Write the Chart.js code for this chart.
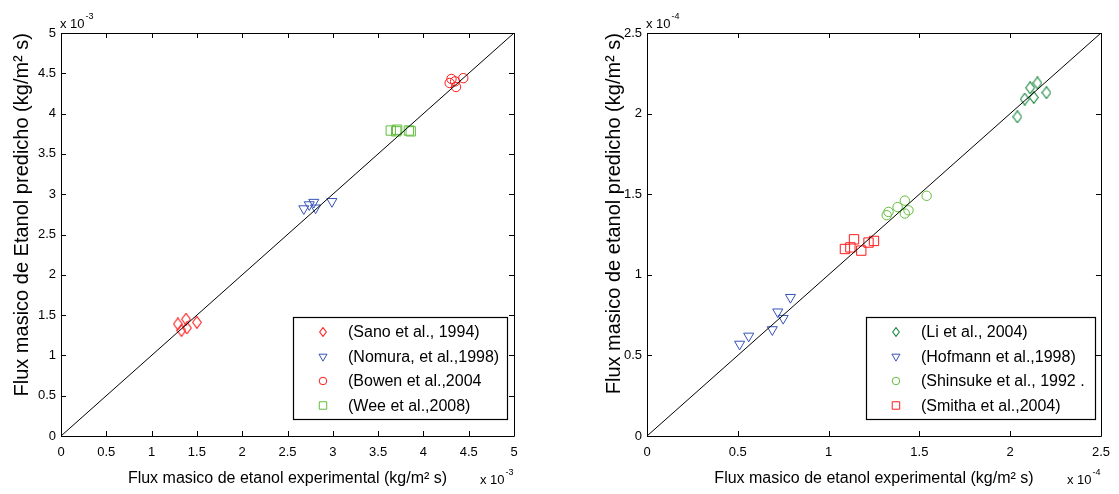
<!DOCTYPE html>
<html>
<head>
<meta charset="utf-8">
<title>Flux masico de etanol</title>
<script src="https://cdn.jsdelivr.net/npm/chart.js@4.4.1/dist/chart.umd.min.js"></script>
<style>
  html, body { margin: 0; padding: 0; background: #fff; }
  #wrap { position: relative; width: 1119px; height: 494px; overflow: hidden; }
  canvas { position: absolute; top: 0; }
  #left { left: 0; }
  #right { left: 580px; }
</style>
</head>
<body>
<div id="wrap">
  <canvas id="left" width="580" height="494"></canvas>
  <canvas id="right" width="539" height="494"></canvas>
</div>
<script>
// left panel, values in units of 1e-3 kg/m2 s
const leftTicks = [0, 0.5, 1, 1.5, 2, 2.5, 3, 3.5, 4, 4.5, 5];
const sanoX = [1.29, 1.33, 1.38, 1.39, 1.50];
const sanoY = [1.39, 1.31, 1.45, 1.34, 1.41];
const nomuraX = [2.68, 2.74, 2.79, 2.81, 2.99];
const nomuraY = [2.82, 2.87, 2.90, 2.83, 2.91];
const bowenX = [4.29, 4.31, 4.35, 4.36, 4.44];
const bowenY = [4.38, 4.43, 4.40, 4.33, 4.44];
const weeX = [3.64, 3.70, 3.71, 3.84, 3.86];
const weeY = [3.79, 3.78, 3.80, 3.79, 3.78];

// right panel, values in units of 1e-4 kg/m2 s
const rightTicks = [0, 0.5, 1, 1.5, 2, 2.5];
const liX = [2.04, 2.08, 2.11, 2.13, 2.15, 2.20];
const liY = [1.98, 2.09, 2.16, 2.10, 2.19, 2.13];
const hofX = [0.51, 0.56, 0.69, 0.72, 0.75, 0.79];
const hofY = [0.57, 0.62, 0.66, 0.77, 0.73, 0.86];
const shinX = [1.32, 1.33, 1.38, 1.42, 1.44, 1.42, 1.54];
const shinY = [1.37, 1.39, 1.42, 1.46, 1.40, 1.38, 1.49];
const smithaX = [1.09, 1.12, 1.14, 1.18, 1.22, 1.25];
const smithaY = [1.16, 1.17, 1.22, 1.15, 1.20, 1.21];

Chart.defaults.font.family = "'Liberation Sans', Arial, sans-serif";
Chart.defaults.color = '#000';

const RED = '#ff1a1a';
const BLUE = '#3553b8';
const LIGHT_GREEN = '#62bd3c';
const DARK_GREEN = '#17873a';

const pts = (xs, ys) => xs.map((x, i) => ({ x, y: ys[i] }));

// slightly tall open diamond, used as a point style image
function diamondImage(color, w, h) {
  const c = document.createElement('canvas');
  c.width = w;
  c.height = h;
  const g = c.getContext('2d');
  g.strokeStyle = color;
  g.lineWidth = 1.1;
  g.beginPath();
  g.moveTo(w / 2, 0.6);
  g.lineTo(w - 0.6, h / 2);
  g.lineTo(w / 2, h - 0.6);
  g.lineTo(0.6, h / 2);
  g.closePath();
  g.stroke();
  return c;
}

function marker(label, xs, ys, color, style) {
  const m = {
    diamond: { pointStyle: diamondImage(color, 10, 13), legendStyle: diamondImage(color, 8, 10), radius: 5, rotation: 0 },
    down: { pointStyle: 'triangle', radius: 5.8, rotation: 180 },
    circle: { pointStyle: 'circle', radius: 4.7, rotation: 0 },
    square: { pointStyle: 'rect', radius: 6.6, rotation: 0 }
  }[style];
  return {
    type: 'scatter',
    label,
    data: pts(xs, ys),
    borderColor: color,
    backgroundColor: 'rgba(0,0,0,0)',
    borderWidth: 1,
    pointStyle: m.pointStyle,
    legendStyle: m.legendStyle || m.pointStyle,
    pointRadius: m.radius,
    pointRotation: m.rotation,
    pointHoverRadius: m.radius
  };
}

function diagonal(max) {
  return {
    type: 'line',
    label: 'y = x',
    data: [{ x: 0, y: 0 }, { x: max, y: max }],
    borderColor: '#000',
    borderWidth: 1,
    pointRadius: 0,
    fill: false
  };
}

// boxed axes with inward ticks on all four sides, plus the x 10^n exponent labels
const frame = {
  id: 'frame',
  afterDraw(chart, args, opts) {
    const { ctx, chartArea: a, scales } = chart;
    ctx.save();
    ctx.strokeStyle = '#000';
    ctx.lineWidth = 1;
    ctx.beginPath();
    ctx.rect(Math.round(a.left) + 0.5, Math.round(a.top) + 0.5,
             Math.round(a.right - a.left), Math.round(a.bottom - a.top));
    ctx.stroke();
    const len = 5;
    ctx.beginPath();
    opts.ticks.forEach(v => {
      const px = Math.round(scales.x.getPixelForValue(v)) + 0.5;
      ctx.moveTo(px, a.bottom); ctx.lineTo(px, a.bottom - len);
      ctx.moveTo(px, a.top); ctx.lineTo(px, a.top + len);
      const py = Math.round(scales.y.getPixelForValue(v)) + 0.5;
      ctx.moveTo(a.left, py); ctx.lineTo(a.left + len, py);
      ctx.moveTo(a.right, py); ctx.lineTo(a.right - len, py);
    });
    ctx.stroke();

    const drawExp = (x, y) => {
      ctx.font = "13px 'Liberation Sans', Arial, sans-serif";
      ctx.textBaseline = 'alphabetic';
      ctx.textAlign = 'left';
      ctx.fillStyle = '#000';
      ctx.fillText('x 10', x, y);
      const w = ctx.measureText('x 10').width;
      ctx.font = "9px 'Liberation Sans', Arial, sans-serif";
      ctx.fillText(opts.exponent, x + w + 1, y - 9);
    };
    drawExp(a.left - 1, a.top - 5);
    drawExp(a.right - 34, a.bottom + 48);
    ctx.restore();
  }
};

// legend box drawn inside the lower right corner of the plot area
const boxLegend = {
  id: 'boxLegend',
  afterDraw(chart, args, opts) {
    const { ctx, chartArea: a } = chart;
    const right = a.right - opts.insetRight;
    const bottom = a.bottom - opts.insetBottom;
    const left = right - opts.width;
    const top = bottom - opts.height;
    ctx.save();
    ctx.fillStyle = '#fff';
    ctx.fillRect(left, top, opts.width, opts.height);
    ctx.strokeStyle = '#000';
    ctx.lineWidth = 1.2;
    ctx.strokeRect(Math.round(left) + 0.5, Math.round(top) + 0.5, Math.round(opts.width), Math.round(opts.height));
    ctx.font = "16px 'Liberation Sans', Arial, sans-serif";
    ctx.textBaseline = 'middle';
    ctx.textAlign = 'left';
    const items = chart.data.datasets.filter(d => d.type === 'scatter');
    items.forEach((d, i) => {
      const y = top + 15 + i * 24.5;
      ctx.strokeStyle = d.borderColor;
      ctx.fillStyle = 'rgba(0,0,0,0)';
      ctx.lineWidth = 1;
      Chart.helpers.drawPoint(ctx, {
        pointStyle: d.legendStyle,
        radius: d.pointRadius * 0.8,
        rotation: d.pointRotation,
        borderWidth: 1
      }, left + opts.markerX, y);
      ctx.fillStyle = '#000';
      ctx.fillText(d.label, left + opts.textX, y + 1);
    });
    ctx.restore();
  }
};

const tickText = v => String(Math.round(v * 10) / 10);

function makeChart(id, cfg) {
  return new Chart(document.getElementById(id), {
    data: { datasets: cfg.datasets },
    options: {
      responsive: false,
      animation: false,
      layout: { padding: { top: 33, right: cfg.padRight, left: 0, bottom: 0 } },
      plugins: {
        legend: { display: false },
        tooltip: { enabled: false },
        frame: { ticks: cfg.ticks, exponent: cfg.exponent },
        boxLegend: cfg.legend
      },
      scales: {
        x: {
          type: 'linear',
          min: 0,
          max: cfg.max,
          afterFit: s => { s.height = 58; },
          afterBuildTicks: s => { s.ticks = cfg.ticks.map(v => ({ value: v })); },
          grid: { display: false, drawTicks: false },
          border: { display: false },
          ticks: { font: { size: 13 }, padding: 9, maxRotation: 0, callback: tickText },
          title: {
            display: true,
            text: 'Flux masico de etanol experimental (kg/m² s)',
            font: { size: 16 },
            padding: { top: 0, bottom: 6 }
          }
        },
        y: {
          type: 'linear',
          min: 0,
          max: cfg.max,
          afterFit: s => { s.width = cfg.yWidth; },
          afterBuildTicks: s => { s.ticks = cfg.ticks.map(v => ({ value: v })); },
          grid: { display: false, drawTicks: false },
          border: { display: false },
          ticks: { font: { size: 13 }, padding: 5, callback: tickText },
          title: {
            display: true,
            text: cfg.yTitle,
            align: 'end',
            font: { size: 20 },
            padding: { top: cfg.yTitlePad, bottom: 0 }
          }
        }
      }
    },
    plugins: [frame, boxLegend]
  });
}

makeChart('left', {
  max: 5,
  ticks: leftTicks,
  exponent: '-3',
  padRight: 66,
  yWidth: 61,
  yTitlePad: 10,
  yTitle: 'Flux masico de Etanol predicho (kg/m² s)',
  legend: { insetRight: 7, insetBottom: 17, width: 214, height: 102, markerX: 30, textX: 55 },
  datasets: [
    diagonal(5),
    marker('(Sano et al., 1994)', sanoX, sanoY, RED, 'diamond'),
    marker('(Nomura, et al.,1998)', nomuraX, nomuraY, BLUE, 'down'),
    marker('(Bowen et al.,2004', bowenX, bowenY, RED, 'circle'),
    marker('(Wee et al.,2008)', weeX, weeY, LIGHT_GREEN, 'square')
  ]
});

makeChart('right', {
  max: 2.5,
  ticks: rightTicks,
  exponent: '-4',
  padRight: 15,
  yWidth: 67,
  yTitlePad: 22,
  yTitle: 'Flux masico de etanol predicho (kg/m² s)',
  legend: { insetRight: 6, insetBottom: 17, width: 229, height: 102, markerX: 30, textX: 55 },
  datasets: [
    diagonal(2.5),
    marker('(Li et al., 2004)', liX, liY, DARK_GREEN, 'diamond'),
    marker('(Hofmann et al.,1998)', hofX, hofY, BLUE, 'down'),
    marker('(Shinsuke et al., 1992 .', shinX, shinY, LIGHT_GREEN, 'circle'),
    marker('(Smitha et al.,2004)', smithaX, smithaY, RED, 'square')
  ]
});
</script>
</body>
</html>
